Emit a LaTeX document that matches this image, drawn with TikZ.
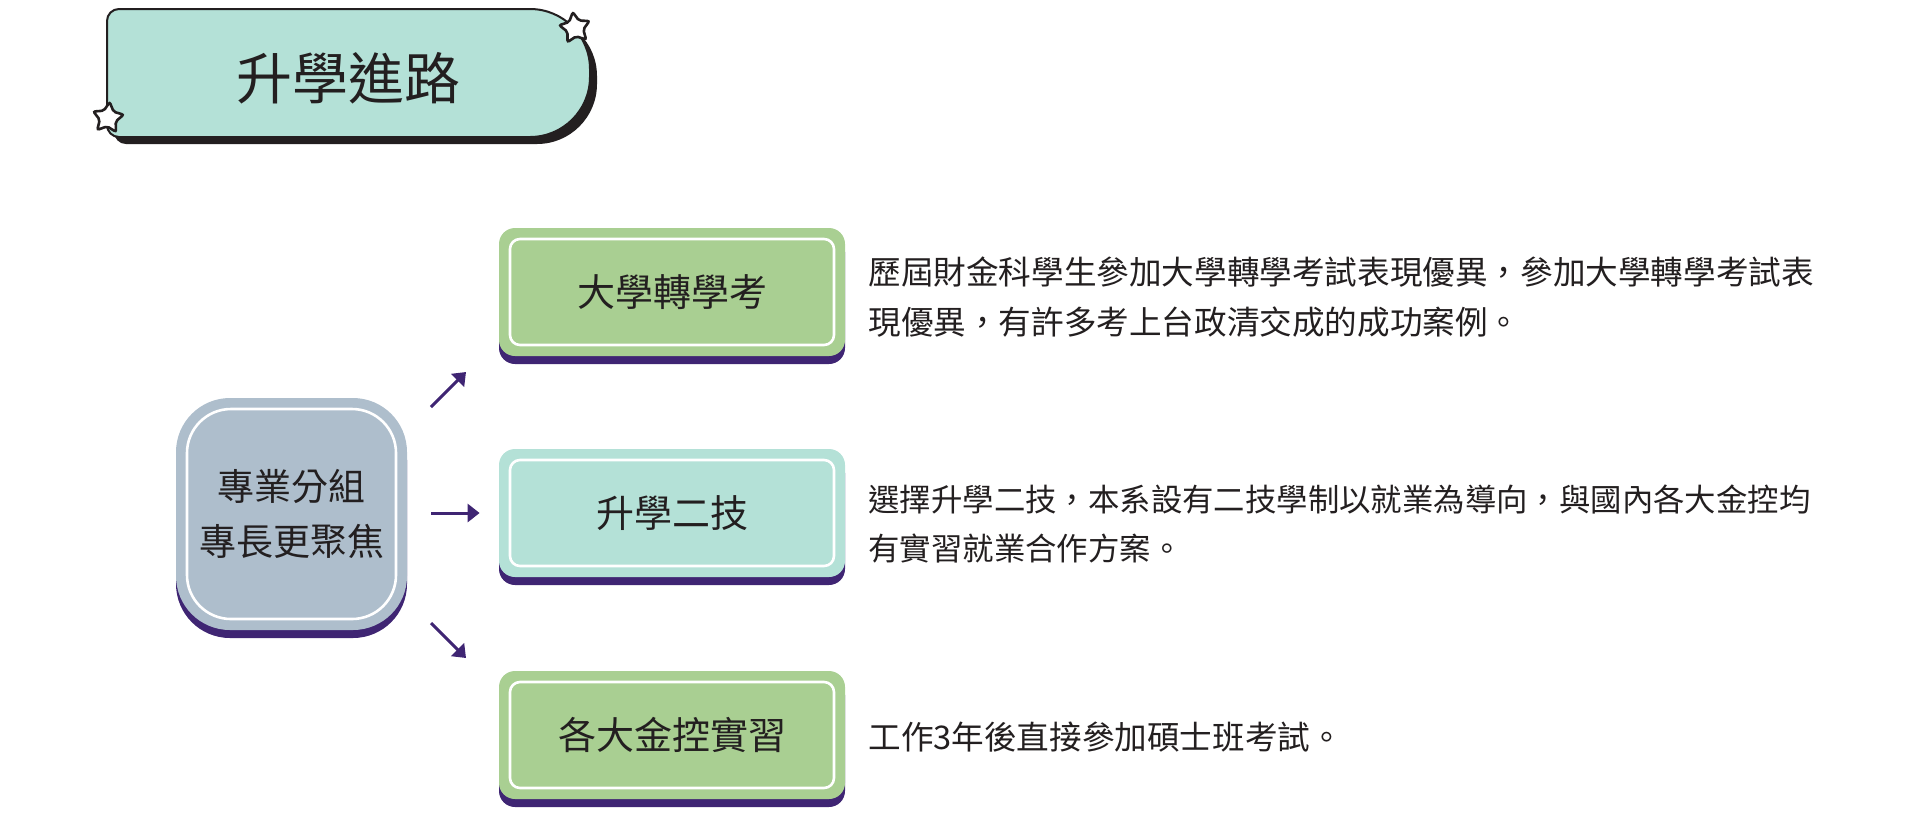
\documentclass[tikz,border=0pt]{standalone}
\usepackage{fontspec}
\newfontfamily\tcfont{Noto Sans CJK TC}
\usetikzlibrary{shapes.geometric,shadows,arrows.meta}
\definecolor{titleteal}{HTML}{B4E1D7}
\definecolor{titledark}{HTML}{231F20}
\definecolor{pathgreen}{HTML}{A9CF92}
\definecolor{pathgrey}{HTML}{AEBECC}
\definecolor{pathpurple}{HTML}{3F2573}
\definecolor{txtdark}{HTML}{231F20}

\begin{document}
\begin{tikzpicture}[x=0.5pt, y=-0.5pt,
    titlebox/.style={draw=titledark, line width=1pt, fill=titleteal, drop shadow={shadow xshift=3.5pt, shadow yshift=-3.5pt, fill=titledark, opacity=1}},
    deco/.style={star, star points=5, star point ratio=1.9, minimum size=16pt, inner sep=0pt, draw=titledark, line width=1.3pt, fill=white, rounded corners=1pt},
    route/.style={rectangle, rounded corners=8pt, minimum width=173pt, minimum height=64pt, text centered, text=txtdark, font=\tcfont\fontsize{19}{22}\selectfont, drop shadow={shadow xshift=0pt, shadow yshift=-4pt, fill=pathpurple, opacity=1}, path picture={\draw[white, line width=1.3pt, rounded corners=5pt] ([shift={(5.5pt,5.5pt)}]path picture bounding box.south west) rectangle ([shift={(-5.5pt,-5.5pt)}]path picture bounding box.north east);}},
    group/.style={rectangle, rounded corners=27pt, fill=pathgrey, minimum width=115.5pt, minimum height=116pt, align=center, text=txtdark, font=\tcfont\fontsize{18.5}{27.5}\selectfont, drop shadow={shadow xshift=0pt, shadow yshift=-4pt, fill=pathpurple, opacity=1}, path picture={\draw[white, line width=1.3pt, rounded corners=22pt] ([shift={(5.5pt,5.5pt)}]path picture bounding box.south west) rectangle ([shift={(-5.5pt,-5.5pt)}]path picture bounding box.north east);}},
    desc/.style={anchor=west, inner sep=0pt, align=left, text=txtdark, font=\tcfont\fontsize{16.3}{25}\selectfont},
    arrow/.style={-{Triangle[length=6pt, width=9pt]}, draw=pathpurple, line width=1.5pt}
]
\useasboundingbox (0,0) rectangle (1920,821);

% title
\draw[titlebox] (350,9) [rounded corners=6pt] -- (107,9) -- (107,137) -- (350,137) [rounded corners=30pt] -- (590,137) -- (590,9) -- cycle;
\node[text=txtdark, font=\tcfont\fontsize{28}{32}\selectfont] (title) at (348,78) {升學進路};
\node[deco, rotate=8] (starA) at (575,28) {};
\node[deco, rotate=-6] (starB) at (108,118) {};

% left
\node[group] (grp) at (291.5,514) {專業分組\\專長更聚焦};

% routes
\node[route, fill=pathgreen] (r1) at (672,292) {大學轉學考};
\node[route, fill=titleteal] (r2) at (672,513) {升學二技};
\node[route, fill=pathgreen] (r3) at (672,735) {各大金控實習};

\node[desc] (d1) at (868,297) {歷屆財金科學生參加大學轉學考試表現優異，參加大學轉學考試表\\現優異，有許多考上台政清交成的成功案例。};
\node[desc, font=\tcfont\fontsize{15.7}{24.5}\selectfont] (d2) at (868,524) {選擇升學二技，本系設有二技學制以就業為導向，與國內各大金控均\\有實習就業合作方案。};
\node[desc] (d3) at (868,737) {工作3年後直接參加碩士班考試。};

% arrows
\coordinate (upS) at (431,407);
\coordinate (upE) at (466,372);
\coordinate (dnS) at (431,623);
\coordinate (dnE) at (466,658);
\draw[arrow] (upS) -- (upE);
\draw[arrow, shorten <=12pt, shorten >=9.5pt] (grp.east |- r2.west) -- (r2.west);
\draw[arrow] (dnS) -- (dnE);

\end{tikzpicture}
\end{document}
